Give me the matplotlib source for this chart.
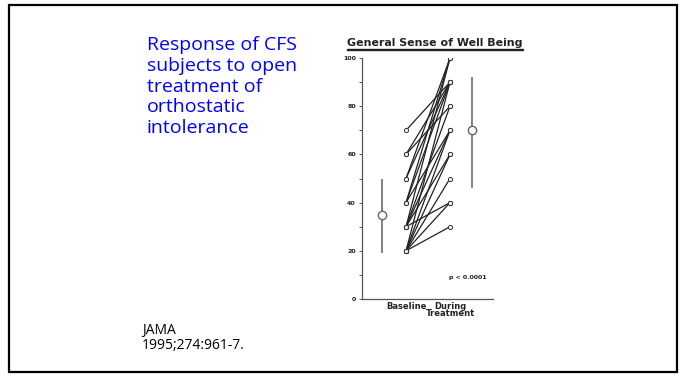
import matplotlib.pyplot as plt
from matplotlib.patches import Rectangle

# paired scores, baseline -> during treatment
baseline = [70, 60, 60, 50, 50, 40, 40, 40, 30, 30, 30, 30, 30, 20, 20, 20, 20, 20, 20]
treatment = [90, 80, 90, 100, 90, 100, 90, 70, 100, 80, 70, 60, 40, 90, 70, 60, 50, 40, 30]

# group summary (mean with bar)
group_mean = [35, 70]
group_low = [19, 46]
group_high = [50, 92]

yticks = [0, 20, 40, 60, 80, 100]
xlabels = ["Baseline", "During\nTreatment"]

fig = plt.figure(figsize=(6.82, 3.77), dpi=100)

# slide frame
fig.patches.append(Rectangle((9 / 682, 5 / 377), 668 / 682, 367 / 377,
                             transform=fig.transFigure, fill=False,
                             edgecolor="black", linewidth=1.6))

fig.text(147 / 682, 1 - 36 / 377,
         "Response of CFS\nsubjects to open\ntreatment of\northostatic\nintolerance",
         color="#0000ff", fontsize=14, family="Open Sans", va="top", ha="left",
         linespacing=1.2)
fig.text(142 / 682, 1 - 323 / 377, "JAMA\n1995;274:961-7.", color="black",
         fontsize=10, family="Open Sans", va="top", ha="left", linespacing=1.0)

ax = fig.add_axes([362 / 682, 78 / 377, 131 / 682, 241 / 377])
ax.set_xlim(0, 2.977)
ax.set_ylim(0, 100)

for b, t in zip(baseline, treatment):
    ax.plot([1, 2], [b, t], color="#222222", linewidth=0.9, marker="o",
            markersize=3, markerfacecolor="white", markeredgecolor="#333333",
            markeredgewidth=0.7)

mean_x = [0.45, 2.5]
ax.vlines(mean_x, group_low, group_high, color="#777777", linewidth=1.3)
ax.plot(mean_x, group_mean, linestyle="none", marker="o", markersize=6,
        markerfacecolor="white", markeredgecolor="#666666", markeredgewidth=1)

ax.text(2.4, 9, "p < 0.0001", fontsize=4.5, fontweight="bold", ha="center",
        va="center", color="#222222")

ax.set_yticks(yticks)
ax.set_yticks(range(10, 100, 20), minor=True)
ax.set_yticklabels([str(v) for v in yticks], fontsize=4.5, fontweight="bold",
                   color="#222222")
ax.set_xticks([1, 2])
ax.set_xticklabels(xlabels, fontsize=6, fontweight="bold", color="#222222",
                   linespacing=0.8)
ax.tick_params(axis="x", length=0, pad=2)
ax.tick_params(axis="y", which="both", length=2.5, width=0.7, pad=2,
               color="#555555")
for side in ["top", "right"]:
    ax.spines[side].set_visible(False)
for side in ["left", "bottom"]:
    ax.spines[side].set_color("#555555")
    ax.spines[side].set_linewidth(0.9)

fig.text(435 / 682, 1 - 43 / 377, "General Sense of Well Being", fontsize=7.9,
         fontweight="bold", ha="center", va="center", color="#222222")
fig.patches.append(Rectangle((347 / 682, 1 - 49.5 / 377), 176 / 682, 0.8 / 377,
                             transform=fig.transFigure, color="#222222"))

fig.savefig("out.png", dpi=100)
